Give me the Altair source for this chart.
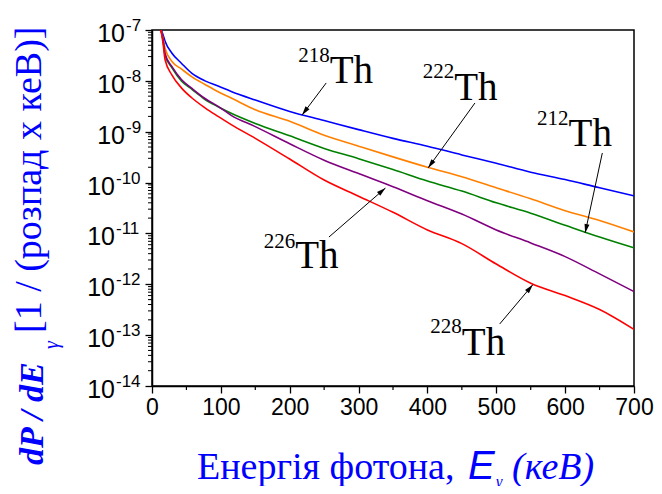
import math
import altair as alt
import pandas as pd

# ---------------- data ----------------
energy_keV = [13, 16, 19, 29, 43, 58, 77, 96, 115, 150, 200, 250, 300, 350,
              400, 450, 500, 550, 600, 650, 700]

th218 = [1.05e-7, 8.1e-8, 6.0e-8, 3.5e-8, 2.2e-8, 1.4e-8, 1.0e-8, 7.9e-9, 6.2e-9,
         4.2e-9, 2.5e-9, 1.66e-9, 1.1e-9, 7.4e-10, 5.2e-10, 3.5e-10, 2.4e-10,
         1.6e-10, 1.15e-10, 7.9e-11, 5.5e-11]
th222 = [1.0e-7, 6.9e-8, 4.4e-8, 2.4e-8, 1.7e-8, 1.2e-8, 8.5e-9, 6.1e-9, 4.6e-9,
         2.7e-9, 1.6e-9, 8.5e-10, 5.2e-10, 3.2e-10, 2.0e-10, 1.3e-10, 7.9e-11,
         4.8e-11, 2.8e-11, 1.8e-11, 1.07e-11]
th212 = [1.0e-7, 6.3e-8, 3.2e-8, 1.8e-8, 9.8e-9, 6.8e-9, 4.3e-9, 3.1e-9, 2.3e-9,
         1.45e-9, 8.3e-10, 4.7e-10, 2.95e-10, 1.8e-10, 1.07e-10, 6.8e-11, 4.0e-11,
         2.5e-11, 1.45e-11, 8.5e-12, 5.2e-12]
th226 = [1.0e-7, 6.5e-8, 3.4e-8, 1.9e-8, 1.05e-8, 7.1e-9, 4.5e-9, 3.16e-9, 2.1e-9,
         1.26e-9, 5.8e-10, 2.75e-10, 1.5e-10, 8.3e-11, 4.4e-11, 2.4e-11, 1.17e-11,
         6.5e-12, 3.5e-12, 1.6e-12, 7.2e-13]
th228 = [1.0e-7, 5.6e-8, 2.6e-8, 1.3e-8, 7.2e-9, 4.6e-9, 2.95e-9, 2.0e-9, 1.38e-9,
         7.4e-10, 2.9e-10, 1.12e-10, 5.4e-11, 2.6e-11, 1.17e-11, 6.3e-12, 2.5e-12,
         1.05e-12, 6.0e-13, 3.2e-13, 1.3e-13]

isotopes = ["218", "222", "212", "226", "228"]
series = [th218, th222, th212, th226, th228]
colors = ["#0000FF", "#FF8000", "#008000", "#800080", "#FF0000"]

# annotation: label anchor (keV), "Th" baseline value, superscript baseline value
label_keV = [258, 439, 605, 208, 450]
label_th_val = [9.1e-9, 4.2e-9, 5.2e-10, 2.1e-12, 4.1e-14]
label_sup_val = [2.35e-8, 1.14e-8, 1.36e-9, 5.2e-12, 1.1e-13]
# arrows: tail and head
arrow_tail_keV = [253, 469, 654, 257, 505]
arrow_tail_val = [9.1e-9, 3.67e-9, 3.82e-10, 8.5e-12, 1.66e-13]
arrow_head_keV = [218, 401, 629, 339, 553]
arrow_head_val = [2.13e-9, 1.94e-10, 1.02e-11, 7.8e-11, 9.8e-13]

x_ticks = [0, 100, 200, 300, 400, 500, 600, 700]
x_minor = [50, 150, 250, 350, 450, 550, 650]
y_exponents = [-7, -8, -9, -10, -11, -12, -13, -14]

# ---------------- layout ----------------
W, H = 482, 356
BLUE = "#0000FF"
SERIF = "Liberation Serif"
SANS = "Liberation Sans"

xs = alt.Scale(domain=[0, 700], nice=False, zero=False)
ys = alt.Scale(type="log", domain=[1e-14, 1e-7], nice=False)
x_axis = alt.Axis(values=x_ticks, title=None, grid=False,
                  labelFont=SANS, labelFontSize=23, labelColor="black", labelPadding=3,
                  tickSize=7, tickColor="black", tickWidth=1.3,
                  domainColor="black", domainWidth=1.5, labelFlush=False)
y_axis = alt.Axis(values=[10.0 ** k for k in y_exponents], labels=False, title=None,
                  grid=False, tickSize=7, tickColor="black", tickWidth=1.3,
                  domainColor="black", domainWidth=1.5)


def X(field):
    return alt.X(field, scale=xs, axis=x_axis)


def Y(field):
    return alt.Y(field, scale=ys, axis=y_axis)


rows = []
for iso, vals in zip(isotopes, series):
    for e, v in zip(energy_keV, vals):
        rows.append({"iso": iso, "E": e, "P": v})
df = pd.DataFrame(rows)

lines = alt.Chart(df).mark_line(strokeWidth=1.6, clip=True, interpolate="monotone").encode(
    x=X("E:Q"), y=Y("P:Q"),
    color=alt.Color("iso:N", scale=alt.Scale(domain=isotopes, range=colors), legend=None),
    order=alt.Order("E:Q"),
)

# minor ticks
xminor_df = pd.DataFrame({"E": x_minor})
xminor = alt.Chart(xminor_df).mark_rule(color="black", strokeWidth=1.2).encode(
    x=X("E:Q"), y=alt.value(H), y2=alt.value(H + 4))

yminor_vals = []
for k in y_exponents[1:]:
    for m in range(2, 10):
        yminor_vals.append(m * 10.0 ** k)
yminor_df = pd.DataFrame({"P": yminor_vals})
yminor = alt.Chart(yminor_df).mark_rule(color="black", strokeWidth=1.0).encode(
    y=Y("P:Q"), x=alt.value(0), x2=alt.value(-4))

# y tick labels 10^k
ylab_df = pd.DataFrame({"P": [10.0 ** k for k in y_exponents],
                        "exp": [str(k) for k in y_exponents]})
ylab_base = alt.Chart(ylab_df).transform_calculate(
    off10="length(datum.exp) > 2 ? -37 : -27",
    offexp="length(datum.exp) > 2 ? -36 : -26",
)
ylab10 = ylab_base.mark_text(align="right", baseline="middle", font=SANS,
                             fontSize=25, color="black", dy=4).encode(
    y=Y("P:Q"), x=alt.X("off10:Q", scale=None), text=alt.value("10"))
ylabexp = ylab_base.mark_text(align="left", baseline="middle", font=SANS,
                              fontSize=17, color="black", dy=-4).encode(
    y=Y("P:Q"), x=alt.X("offexp:Q", scale=None), text="exp:N")

# annotations
ann_df = pd.DataFrame({"iso": isotopes, "E": label_keV, "Pth": label_th_val,
                       "Psup": label_sup_val})
ann_th = alt.Chart(ann_df).mark_text(align="left", baseline="alphabetic", font=SERIF,
                                     fontSize=39, color="black").encode(
    x=X("E:Q"), y=Y("Pth:Q"), text=alt.value("Th"))
ann_sup = alt.Chart(ann_df).mark_text(align="right", baseline="alphabetic", font=SERIF,
                                      fontSize=21, color="black").encode(
    x=X("E:Q"), y=Y("Psup:Q"), text="iso:N")


def to_px(e, p):
    return e / 700 * W, (-7 - math.log10(p)) / 7 * H


angles = []
for te, tv, he, hv in zip(arrow_tail_keV, arrow_tail_val, arrow_head_keV, arrow_head_val):
    tx, ty = to_px(te, tv)
    hx, hy = to_px(he, hv)
    a = math.degrees(math.atan2(hx - tx, -(hy - ty))) % 360
    angles.append(a)

arr_df = pd.DataFrame({"x1": arrow_tail_keV, "y1": arrow_tail_val,
                       "x2": arrow_head_keV, "y2": arrow_head_val, "ang": angles})
arr_lines = alt.Chart(arr_df).mark_rule(color="black", strokeWidth=1.0).encode(
    x=X("x1:Q"), y=Y("y1:Q"), x2="x2:Q", y2="y2:Q")
arr_heads = alt.Chart(arr_df).mark_point(
    shape="M0,0L-0.28,1L0.28,1Z", filled=True, color="black", opacity=1,
    size=324, strokeWidth=0).encode(
    x=X("x2:Q"), y=Y("y2:Q"), angle=alt.Angle("ang:Q", scale=None))

# axis titles built from pieces (mixed styles)
one = pd.DataFrame({"a": [0]})


def piece(txt, x, y, size, style="normal", weight="normal", font=SERIF, angle=0, align="left"):
    kw = dict(align=align, baseline="alphabetic", font=font, fontSize=size,
              fontStyle=style, fontWeight=weight, color=BLUE)
    if angle:
        kw["angle"] = angle
    return alt.Chart(one).mark_text(**kw).encode(
        x=alt.value(x), y=alt.value(y), text=alt.value(txt))


titles = [
    piece("dP / dE", -109, 435, 34, style="italic", weight="bold", angle=270),
    piece("γ", -94, 319, 20, style="italic", angle=270),
    piece("[1 / (розпад x кеВ)]", -111, 303, 38, angle=270),
    piece("Енергія фотона,", 45, 449, 38),
    piece("E", 316, 449, 40, style="italic", font=SANS),
    piece("γ", 344, 457, 16, style="italic"),
    piece("(кеВ)", 360, 449, 38, style="italic"),
]

chart = alt.layer(lines, xminor, yminor, ylab10, ylabexp, arr_lines, arr_heads,
                  ann_th, ann_sup, *titles).properties(
    width=W, height=H,
    autosize=alt.AutoSizeParams(type="none"),
    padding={"left": 144, "top": 22, "right": 20, "bottom": 100},
    background="white",
).configure_view(stroke="black", strokeWidth=1.5)

chart.save("out.html", embed_options={"renderer": "svg", "actions": False})
